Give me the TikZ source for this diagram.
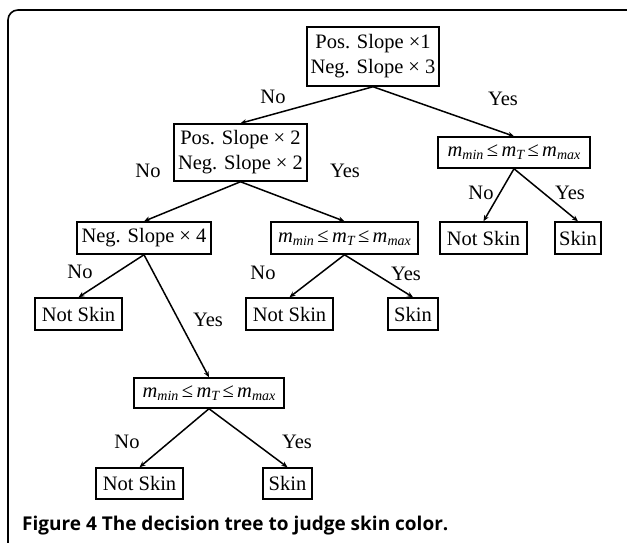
\documentclass[tikz,border=0pt]{standalone}
\usepackage{fontspec}
\setmainfont{Liberation Serif}
\newfontfamily\capfont{Open Sans}
\usetikzlibrary{arrows.meta}
\newcommand{\mvar}[1]{{\itshape m}\raisebox{-0.35ex}{\fontsize{14}{14}\selectfont\itshape #1}}
\newcommand{\mrange}{\mvar{min}\,≤\,\mvar{T}\,≤\,\mvar{max}}
\begin{document}
\begin{tikzpicture}[x=1pt,y=-1pt,
  box/.style={draw, line width=1.5pt, inner sep=0pt, align=center, font=\fontsize{20.5}{25}\selectfont},
  lbl/.style={font=\fontsize{20.5}{22}\selectfont, inner sep=0pt},
  edge/.style={line width=1.5pt, -{Stealth[length=6pt,width=5pt]}}]
\useasboundingbox (0,0) rectangle (627,543);
\draw[line width=1.6pt, rounded corners=10pt] (627,10) -- (8,10) -- (8,543);
\node[box, minimum width=132pt, minimum height=59pt] (root) at (373,56.5) {Pos. Slope ×1\\Neg. Slope × 3};
\node[box, minimum width=133pt, minimum height=57pt] (l2) at (240.5,152.5) {Pos. Slope × 2\\Neg. Slope × 2};
\node[box, minimum width=152pt, minimum height=31pt] (r2) at (514,152.5) {\mrange};
\node[box, minimum width=134pt, minimum height=32pt] (n4) at (144,238) {Neg. Slope × 4};
\node[box, minimum width=147pt, minimum height=32pt] (m5) at (344.5,238) {\mrange};
\node[box, minimum width=87pt, minimum height=32pt] (ns1) at (78.5,314) {Not Skin};
\node[box, minimum width=87pt, minimum height=32pt] (ns2) at (289.5,314) {Not Skin};
\node[box, minimum width=50pt, minimum height=32pt] (sk2) at (413,314) {Skin};
\node[box, minimum width=87pt, minimum height=32pt] (ns3) at (483.5,238) {Not Skin};
\node[box, minimum width=46pt, minimum height=32pt] (sk3) at (578,238) {Skin};
\node[box, minimum width=150pt, minimum height=30pt] (m10) at (209,393) {\mrange};
\node[box, minimum width=87pt, minimum height=31pt] (ns4) at (139.5,483.5) {Not Skin};
\node[box, minimum width=49pt, minimum height=31pt] (sk4) at (287.5,483.5) {Skin};
\draw[edge] (root.south) -- (l2.north);
\draw[edge] (root.south) -- (r2.north);
\draw[edge] (l2.south) -- (n4.north);
\draw[edge] (l2.south) -- (m5.north);
\draw[edge] (n4.south) -- (ns1.north);
\draw[edge] (n4.south) -- (m10.north);
\draw[edge] (m5.south) -- (ns2.north);
\draw[edge] (m5.south) -- (sk2.north);
\draw[edge] (r2.south) -- (ns3.north);
\draw[edge] (r2.south) -- (sk3.north);
\draw[edge] (m10.south) -- (ns4.north);
\draw[edge] (m10.south) -- (sk4.north);
\node[lbl] (a1) at (273,97) {No};
\node[lbl] (a2) at (503,99) {Yes};
\node[lbl] (a3) at (148,171) {No};
\node[lbl] (a4) at (345,171) {Yes};
\node[lbl] (a5) at (80,272) {No};
\node[lbl] (a6) at (208,320) {Yes};
\node[lbl] (a7) at (263,273) {No};
\node[lbl] (a8) at (406,274) {Yes};
\node[lbl] (a9) at (481,193) {No};
\node[lbl] (a10) at (570,193) {Yes};
\node[lbl] (a11) at (127,442) {No};
\node[lbl] (a12) at (297,442) {Yes};
\node[anchor=base west, inner sep=0pt, font=\capfont\bfseries\fontsize{19}{21}\selectfont] (cap) at (22,530) {Figure 4 The decision tree to judge skin color.};
\end{tikzpicture}
\end{document}
